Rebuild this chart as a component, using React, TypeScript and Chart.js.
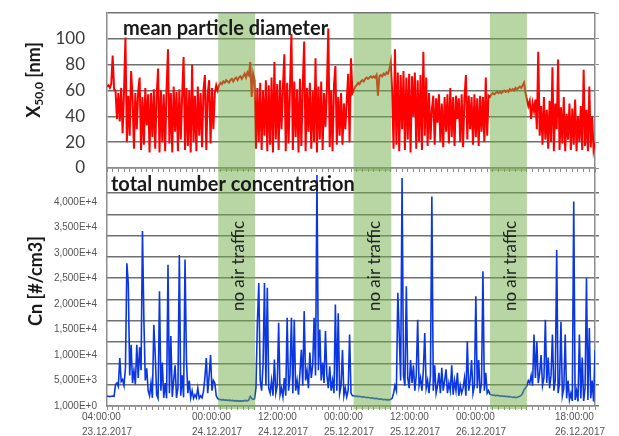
import React, { useEffect, useRef } from 'react';
import { Chart, registerables } from 'chart.js';

Chart.register(...registerables);

// time resolution of the series: hours since 23.12.2017 04:00
const STEP_H = 0.25;

// ---------- mean particle diameter X50,0 [nm] ----------
const diamDay1 = [
  63, 64, 62, 65, 87, 61, 60, 38, 58, 36, 62, 27, 59, 101, 20, 56, 25, 75, 55, 15,
  58, 30, 60, 70, 14, 55, 18, 62, 33, 57, 12, 58, 24, 61, 15, 56, 77, 12, 60, 20,
  57, 13, 62, 92, 19, 58, 12, 63, 28, 59, 13, 61, 22, 57, 86, 14, 62, 17, 60, 12,
  80, 20, 56, 13, 63, 25, 58, 16, 60, 72, 14, 57, 68, 19, 62, 30, 58, 64, 60,
];
const diamNight1 = [
  64, 66, 65, 67, 66, 68, 67, 66, 68, 69, 67, 69, 70, 68, 70, 71, 69, 71, 73, 70,
  74, 72, 82, 55, 73, 68,
];
const diamDay2 = [
  15, 62, 20, 66, 14, 60, 25, 68, 13, 64, 18, 70, 12, 82, 22, 65, 14, 68, 30, 62,
  88, 13, 66, 19, 63, 104, 14, 67, 24, 61, 12, 69, 17, 64, 98, 13, 62, 28, 66, 15,
  60, 20, 85, 12, 63, 22, 67, 14, 58, 32, 61, 108, 16, 60, 13, 64, 79, 18, 55, 25,
  58, 18, 50, 30, 52, 73, 20, 85, 58,
];
const diamNight2 = [
  60, 63, 64, 66, 65, 67, 68, 67, 69, 70, 69, 70, 71, 70, 71, 70, 72, 56, 71, 72,
  71, 73, 72, 74, 73, 76, 82,
];
const diamDay3 = [
  60, 15, 92, 18, 74, 13, 72, 30, 75, 14, 70, 22, 73, 12, 71, 40, 74, 15, 68, 20,
  72, 14, 90, 25, 70, 17, 58, 22, 45, 56, 18, 54, 35, 57, 20, 50, 16, 55, 28, 57,
  19, 62, 24, 55, 17, 56, 38, 54, 20, 57, 16, 55, 72, 22, 56, 30, 55, 18, 57, 24,
  54, 17, 56, 28, 55, 20, 70, 25, 56, 55,
];
const diamNight3 = [
  57, 58, 57, 58, 59, 58, 59, 58, 59, 60, 59, 60, 59, 61, 60, 61, 60, 62, 61, 62,
  63, 62, 64, 66, 58, 53,
];
const diamDay4 = [
  48, 52, 38, 50, 44, 53, 30, 90, 25, 48, 18, 55, 22, 45, 15, 52, 20, 78, 13, 50,
  30, 84, 14, 47, 19, 55, 13, 42, 22, 50, 14, 46, 18, 53, 13, 40, 20, 48, 14, 76,
  17, 45, 13, 63, 16, 40, 14, 20,
];

// ---------- total number concentration Cn [#/cm3] ----------
const cnDay1 = [
  1900, 1900, 1850, 1900, 1950, 1900, 4200, 4500, 3800, 9400, 4800, 5200, 4000, 7500, 28000, 24000, 6000, 12000, 4500, 7000,
  4200, 12000, 5500, 11500, 7000, 34300, 16900, 5000, 7400, 3000, 2000, 4500, 1600, 15900, 10000, 2200, 1500, 22500, 3000, 8500,
  1600, 4500, 1500, 27700, 2500, 13700, 1800, 5000, 8000, 1600, 3500, 29600, 2000, 6000, 1700, 28700, 9000, 2500, 5000, 1600,
  3000, 1500, 2200, 1600, 3500, 1500, 2000, 1600, 2800, 5500, 9400, 2500, 6000, 10000, 3000, 5000, 4500, 2000, 1500,
];
const cnNight1 = [
  1300, 1250, 1200, 1250, 1150, 1200, 1100, 1150, 1100, 1050, 1100, 1000, 1050, 1000, 950, 1000, 950, 1000, 1050, 1100,
  1000, 1200, 1900, 1500, 1300, 1400,
];
const cnDay2 = [
  3500, 16300, 24100, 5000, 3000, 8000, 24100, 4000, 23200, 3500, 2500, 5000, 2000, 9100, 2500, 4000, 16300, 2200, 3500, 1800,
  5500, 2000, 17300, 3000, 6000, 17300, 2500, 16900, 3000, 5000, 2200, 6500, 11000, 4000, 18600, 5000, 7000, 3500, 10500, 5500,
  8000, 17300, 6000, 45300, 7000, 15000, 5000, 8500, 4500, 14700, 6000, 3500, 7800, 3000, 5000, 2500, 19900, 3000, 18200, 2500,
  4000, 11000, 2000, 3500, 1800, 3000, 14000, 2500, 2000,
];
const cnNight2 = [
  2000, 1900, 1950, 1850, 1900, 1800, 1750, 1800, 1700, 1650, 1700, 1600, 1550, 1600, 1500, 1450, 1500, 1400, 1350, 1400,
  1300, 1250, 1300, 1200, 1250, 1200, 1300,
];
const cnDay3 = [
  1500, 2500, 4000, 3000, 22200, 14000, 5000, 44700, 6000, 4000, 23500, 5500, 3500, 9000, 4500, 8000, 3000, 6000, 16900, 4000,
  5500, 3000, 7000, 14300, 3500, 5000, 2500, 6000, 41100, 3000, 8000, 2500, 4000, 6500, 2500, 7500, 3000, 5000, 7200, 2500,
  4500, 3000, 8000, 2200, 5000, 3000, 6500, 2000, 4000, 2500, 3500, 5500, 2000, 12700, 3000, 5000, 9000, 2500, 4000, 21500,
  3500, 9000, 2500, 4500, 26400, 3000, 6500, 2500, 3000, 2300,
];
const cnNight3 = [
  2200, 2100, 2150, 2000, 2100, 2050, 1950, 2000, 1900, 1950, 1850, 1900, 1800, 1850, 1750, 1700, 1750, 1650, 1700, 1800,
  1900, 2100, 2500, 3200, 3500, 4000,
];
const cnDay4 = [
  5000, 4500, 6000, 4000, 14000, 5500, 12600, 4500, 6500, 10000, 4000, 5500, 16900, 4500, 9500, 3500, 6000, 14000, 3000, 5000,
  30600, 2500, 4500, 16500, 2000, 3500, 14000, 1500, 5000, 1200, 2500, 1000, 40100, 1200, 3000, 900, 14000, 1500, 9500, 1000,
  3500, 25100, 1200, 15300, 1500, 5000, 900, 11000,
];

const diameter = [...diamDay1, ...diamNight1, ...diamDay2, ...diamNight2, ...diamDay3, ...diamNight3, ...diamDay4];
const concentration = [...cnDay1, ...cnNight1, ...cnDay2, ...cnNight2, ...cnDay3, ...cnNight3, ...cnDay4];

// no-air-traffic periods (hours since start)
const bandStart = [19.6, 43.45, 67.5];
const bandEnd = [26.1, 50.1, 74.0];
const bandLabel = 'no air traffic';

// axis ticks
const timeMax = 86;
const diamTicks = [0, 20, 40, 60, 80, 100, 120];
const diamTickLabels = ['0', '20', '40', '60', '80', '100', ''];
const cnTicks = [0, 5000, 10000, 15000, 20000, 25000, 30000, 35000, 40000];
const cnTickLabels = ['1,000E+0', '5,000E+3', '1,000E+4', '1,500E+4', '2,000E+4', '2,500E+4', '3,000E+4', '3,500E+4', '4,000E+4'];
const timeTickHours = [0, 20, 32, 44, 56, 68, 86];
const timeTickLabels = [
  ['04:00:00', '23.12.2017'],
  ['00:00:00', '24.12.2017'],
  ['12:00:00', '24.12.2017'],
  ['00:00:00', '25.12.2017'],
  ['12:00:00', '25.12.2017'],
  ['00:00:00', '26.12.2017'],
  ['18:00:00', '26.12.2017'],
];

const GRID = 'rgb(112,112,112)';
const BORDER = 'rgb(140,140,140)';
const BAND = 'rgba(112,173,71,0.5)';
const TITLE_FONT = 'Lato';

const hourTicks = () => Array.from({ length: timeMax + 1 }, (_, i) => ({ value: i }));

const fixWidth = (w: number) => (s: any) => {
  s.width = w;
  s.paddingTop = 0; s.paddingBottom = 0; s.paddingLeft = 0; s.paddingRight = 0;
};
const fixHeight = (h: number) => (s: any) => {
  s.height = h;
  s.paddingTop = 0; s.paddingBottom = 0; s.paddingLeft = 0; s.paddingRight = 0;
};

const bandPlugin = {
  id: 'bands',
  afterDatasetsDraw(chart: any) {
    const { ctx, chartArea, scales } = chart;
    ctx.save();
    ctx.fillStyle = BAND;
    for (let i = 0; i < bandStart.length; i++) {
      const x0 = scales.x.getPixelForValue(bandStart[i]);
      const x1 = scales.x.getPixelForValue(bandEnd[i]);
      ctx.fillRect(x0, chartArea.top, x1 - x0, chartArea.bottom - chartArea.top + 3);
    }
    ctx.restore();
  },
};

function rotatedText(ctx: CanvasRenderingContext2D, text: string, cx: number, cy: number, font: string, color: string) {
  ctx.save();
  ctx.translate(cx, cy);
  ctx.rotate(-Math.PI / 2);
  ctx.font = font;
  ctx.fillStyle = color;
  ctx.textAlign = 'center';
  ctx.textBaseline = 'middle';
  ctx.fillText(text, 0, 0);
  ctx.restore();
}

const topTextPlugin = {
  id: 'topText',
  afterDraw(chart: any) {
    const ctx: CanvasRenderingContext2D = chart.ctx;
    ctx.save();
    ctx.font = `bold 20px ${TITLE_FONT}`;
    ctx.fillStyle = '#1a1a1a';
    ctx.textBaseline = 'alphabetic';
    ctx.textAlign = 'left';
    ctx.fillText('mean particle diameter', 123, 35);
    // y title X50,0 [nm] with subscript
    ctx.translate(34, 80);
    ctx.rotate(-Math.PI / 2);
    const big = `bold 18px ${TITLE_FONT}`;
    const small = `bold 12px ${TITLE_FONT}`;
    ctx.font = big;
    const wX = ctx.measureText('X').width;
    const wRest = ctx.measureText(' [nm]').width;
    ctx.font = small;
    const wSub = ctx.measureText('50,0').width;
    let x = -(wX + wSub + wRest) / 2;
    ctx.textAlign = 'left';
    ctx.font = big;
    ctx.fillText('X', x, 6);
    x += wX;
    ctx.font = small;
    ctx.fillText('50,0', x, 9);
    x += wSub;
    ctx.font = big;
    ctx.fillText(' [nm]', x, 6);
    ctx.restore();
  },
};

const bottomTextPlugin = {
  id: 'bottomText',
  afterDraw(chart: any) {
    const ctx: CanvasRenderingContext2D = chart.ctx;
    const xs = chart.scales.x;
    ctx.save();
    ctx.font = `bold 20px ${TITLE_FONT}`;
    ctx.fillStyle = '#1a1a1a';
    ctx.textBaseline = 'alphabetic';
    ctx.textAlign = 'left';
    ctx.fillText('total number concentration', 111, 191);
    ctx.restore();
    rotatedText(ctx, 'Cn [#/cm3]', 36, 281, `bold 18px ${TITLE_FONT}`, '#1a1a1a');
    for (let i = 0; i < bandStart.length; i++) {
      const cx = (xs.getPixelForValue(bandStart[i]) + xs.getPixelForValue(bandEnd[i])) / 2 + 2;
      rotatedText(ctx, bandLabel, cx, 266, `17px ${TITLE_FONT}`, '#222');
    }
  },
};

function topConfig(): any {
  return {
    type: 'line',
    data: {
      datasets: [
        {
          data: diameter.map((v, i) => ({ x: i * STEP_H, y: v })),
          borderColor: '#ff0000',
          borderWidth: 2,
          pointRadius: 0,
          tension: 0,
          xAxisID: 'x',
          yAxisID: 'y',
        },
      ],
    },
    options: {
      animation: false,
      responsive: false,
      events: [],
      layout: { padding: { top: 13, bottom: 263, left: 0, right: 0 } },
      plugins: { legend: { display: false }, tooltip: { enabled: false } },
      scales: {
        x: {
          type: 'linear',
          position: 'bottom',
          min: 0,
          max: timeMax,
          afterBuildTicks: (s: any) => { s.ticks = hourTicks(); },
          ticks: { display: false },
          grid: { drawOnChartArea: false, tickLength: 4, color: BORDER, lineWidth: 1 },
          border: { color: BORDER, width: 1.5 },
          afterFit: fixHeight(5),
        },
        y: {
          type: 'linear',
          position: 'left',
          min: 0,
          max: 120,
          afterBuildTicks: (s: any) => { s.ticks = diamTicks.map((v) => ({ value: v })); },
          ticks: {
            autoSkip: false,
            padding: 22,
            color: '#3a3a3a',
            font: { family: TITLE_FONT, size: 17 },
            callback: (v: number) => diamTickLabels[diamTicks.indexOf(v)],
          },
          grid: { color: GRID, lineWidth: 1.5, drawTicks: false },
          border: { color: BORDER, width: 1.5 },
          afterFit: fixWidth(107),
        },
        y2: {
          type: 'linear',
          position: 'right',
          min: 0,
          max: 120,
          afterBuildTicks: (s: any) => { s.ticks = diamTicks.map((v) => ({ value: v })); },
          ticks: { display: false },
          grid: { drawOnChartArea: false, tickLength: 4, color: BORDER },
          border: { color: BORDER, width: 1.5 },
          afterFit: fixWidth(24),
        },
      },
    },
    plugins: [bandPlugin, topTextPlugin],
  };
}

function bottomConfig(): any {
  return {
    type: 'line',
    data: {
      datasets: [
        {
          data: concentration.map((v, i) => ({ x: i * STEP_H, y: v })),
          borderColor: 'rgb(10,55,225)',
          borderWidth: 1.6,
          pointRadius: 0,
          tension: 0,
          xAxisID: 'x',
          yAxisID: 'y',
        },
      ],
    },
    options: {
      animation: false,
      responsive: false,
      events: [],
      layout: { padding: { top: 169, bottom: 0, left: 0, right: 0 } },
      plugins: { legend: { display: false }, tooltip: { enabled: false } },
      scales: {
        x: {
          type: 'linear',
          position: 'bottom',
          min: 0,
          max: timeMax,
          afterBuildTicks: (s: any) => { s.ticks = hourTicks(); },
          ticks: { display: false },
          grid: { drawOnChartArea: false, tickLength: 4, color: BORDER, lineWidth: 1 },
          border: { color: BORDER, width: 1.5 },
          afterFit: fixHeight(5),
        },
        x2: {
          type: 'linear',
          position: 'bottom',
          min: 0,
          max: 88.73,
          afterBuildTicks: (s: any) => { s.ticks = timeTickHours.map((v) => ({ value: v })); },
          ticks: {
            autoSkip: false,
            maxRotation: 0,
            minRotation: 0,
            align: 'start',
            labelOffset: -25,
            padding: -1,
            color: '#555',
            font: { family: 'Liberation Sans', size: 10, lineHeight: 1.5 },
            callback: (v: number) => timeTickLabels[timeTickHours.indexOf(v)],
          },
          grid: { display: false, drawTicks: false, tickLength: 0 },
          border: { display: false },
          afterFit: fixHeight(25),
        },
        y: {
          type: 'linear',
          position: 'left',
          min: 0,
          max: 46471,
          afterBuildTicks: (s: any) => { s.ticks = cnTicks.map((v) => ({ value: v })); },
          ticks: {
            autoSkip: false,
            padding: 10,
            color: '#555',
            font: { family: 'Liberation Sans', size: 10 },
            callback: (v: number) => cnTickLabels[cnTicks.indexOf(v)],
          },
          grid: { drawOnChartArea: false, drawTicks: false },
          border: { color: BORDER, width: 1.5 },
          afterFit: fixWidth(107),
        },
        y2: {
          type: 'linear',
          position: 'right',
          min: 0,
          max: 11.127,
          afterBuildTicks: (s: any) => { s.ticks = Array.from({ length: 11 }, (_, i) => ({ value: i })); },
          ticks: { display: false },
          grid: { color: GRID, lineWidth: 1.5, tickLength: 4 },
          border: { color: BORDER, width: 1.5 },
          afterFit: fixWidth(24),
        },
      },
    },
    plugins: [bandPlugin, bottomTextPlugin],
  };
}

export default function App() {
  const topRef = useRef<HTMLCanvasElement>(null);
  const botRef = useRef<HTMLCanvasElement>(null);

  useEffect(() => {
    const bottom = new Chart(botRef.current as HTMLCanvasElement, bottomConfig());
    const top = new Chart(topRef.current as HTMLCanvasElement, topConfig());
    return () => {
      top.destroy();
      bottom.destroy();
    };
  }, []);

  return (
    <div style={{ position: 'absolute', left: 0, top: 0, width: 619, height: 436, background: '#fff', overflow: 'hidden' }}>
      <canvas ref={botRef} width={619} height={436} style={{ position: 'absolute', left: 0, top: 0 }} />
      <canvas ref={topRef} width={619} height={436} style={{ position: 'absolute', left: 0, top: 0 }} />
    </div>
  );
}
